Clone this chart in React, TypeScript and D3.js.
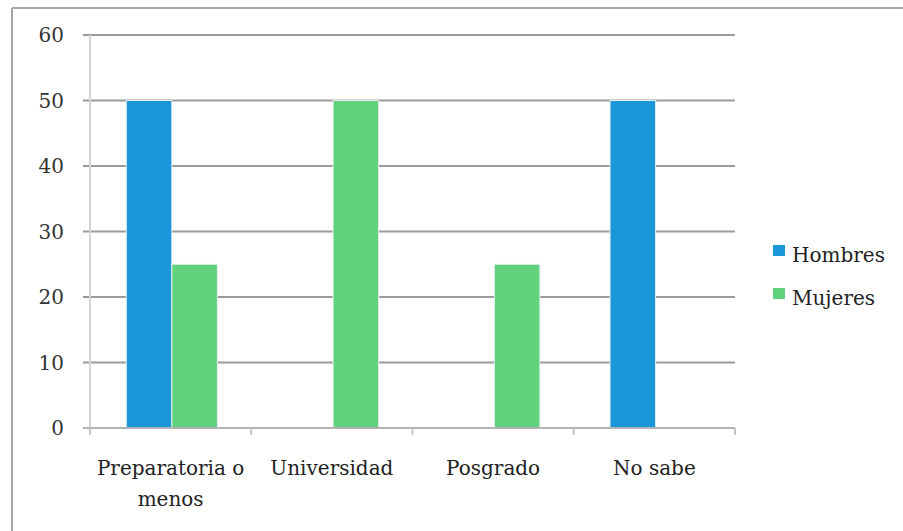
import * as React from 'react';
import * as d3 from 'd3';

const categories = ['Preparatoria o menos', 'Universidad', 'Posgrado', 'No sabe'];
const categoryLines = [['Preparatoria o', 'menos'], ['Universidad'], ['Posgrado'], ['No sabe']];
const seriesNames = ['Hombres', 'Mujeres'];
const hombres = [50, 0, 0, 50];
const mujeres = [25, 50, 25, 0];
const yTicks = [0, 10, 20, 30, 40, 50, 60];
const colors = ['#1b96d8', '#5fd27b'];

export default function App() {
  const width = 903;
  const height = 531;
  const margin = { top: 35, right: 168, bottom: 103, left: 90 };
  const innerW = 735 - margin.left;
  const innerH = 428 - margin.top;

  const x = d3.scaleBand().domain(categories).range([0, innerW]).paddingInner(0).paddingOuter(0);
  const sub = d3.scaleBand().domain(seriesNames).range([x.bandwidth() * 0.225, x.bandwidth() * 0.79]);
  const y = d3.scaleLinear().domain([0, 60]).range([innerH, 0]);

  const series = [hombres, mujeres];
  const font = 'DejaVu Serif, serif';
  const fs = 20;

  return (
    <div style={{ position: 'absolute', left: 0, top: 0 }}>
      <svg width={width} height={height} style={{ display: 'block', background: '#fff' }}>
        {/* outer frame */}
        <line x1={12} y1={8} x2={width} y2={8} stroke="#a6a6a6" strokeWidth={2} />
        <line x1={12} y1={8} x2={12} y2={height} stroke="#a6a6a6" strokeWidth={2} />
        <g transform={`translate(${margin.left},${margin.top})`}>
          {yTicks.map(t => (
            <g key={t}>
              {t > 0 && (
                <line x1={-7} x2={innerW} y1={y(t)} y2={y(t)} stroke="#9a9a9a" strokeWidth={2} />
              )}
              <text x={-26} y={y(t)} dy="0.36em" textAnchor="end" fontFamily={font} fontSize={fs} fill="#333">
                {t}
              </text>
            </g>
          ))}
          <line x1={0} x2={0} y1={0} y2={innerH + 6} stroke="#d4d4d4" strokeWidth={2} />
          {series.map((vals, si) =>
            categories.map((c, ci) =>
              vals[ci] > 0 ? (
                <rect
                  key={si + '-' + ci}
                  x={(x(c) as number) + (sub(seriesNames[si]) as number)}
                  y={y(vals[ci])}
                  width={sub.bandwidth()}
                  height={innerH - y(vals[ci])}
                  fill={colors[si]}
                  stroke="#e6eef2"
                  strokeWidth={1}
                />
              ) : null
            )
          )}
          <line x1={-7} x2={innerW} y1={innerH} y2={innerH} stroke="#b3b3b3" strokeWidth={2} />
          {categories.map(c => (
            <line key={c} x1={x(c) as number} x2={x(c) as number} y1={innerH} y2={innerH + 7} stroke="#c4c4c4" strokeWidth={2} />
          ))}
          <line x1={innerW} x2={innerW} y1={innerH} y2={innerH + 7} stroke="#c4c4c4" strokeWidth={2} />
          {categories.map((c, i) => (
            <text key={c} textAnchor="middle" fontFamily={font} fontSize={fs} fill="#222">
              {categoryLines[i].map((l, li) => (
                <tspan key={li} x={(x(c) as number) + x.bandwidth() / 2} y={innerH + 47 + li * 31}>
                  {l}
                </tspan>
              ))}
            </text>
          ))}
        </g>
        {seriesNames.map((s, i) => (
          <g key={s} transform={`translate(773,${245 + i * 43})`}>
            <rect width={12} height={11} fill={colors[i]} />
            <text x={19} y={17} fontFamily={font} fontSize={fs} fill="#222">
              {s}
            </text>
          </g>
        ))}
      </svg>
    </div>
  );
}
